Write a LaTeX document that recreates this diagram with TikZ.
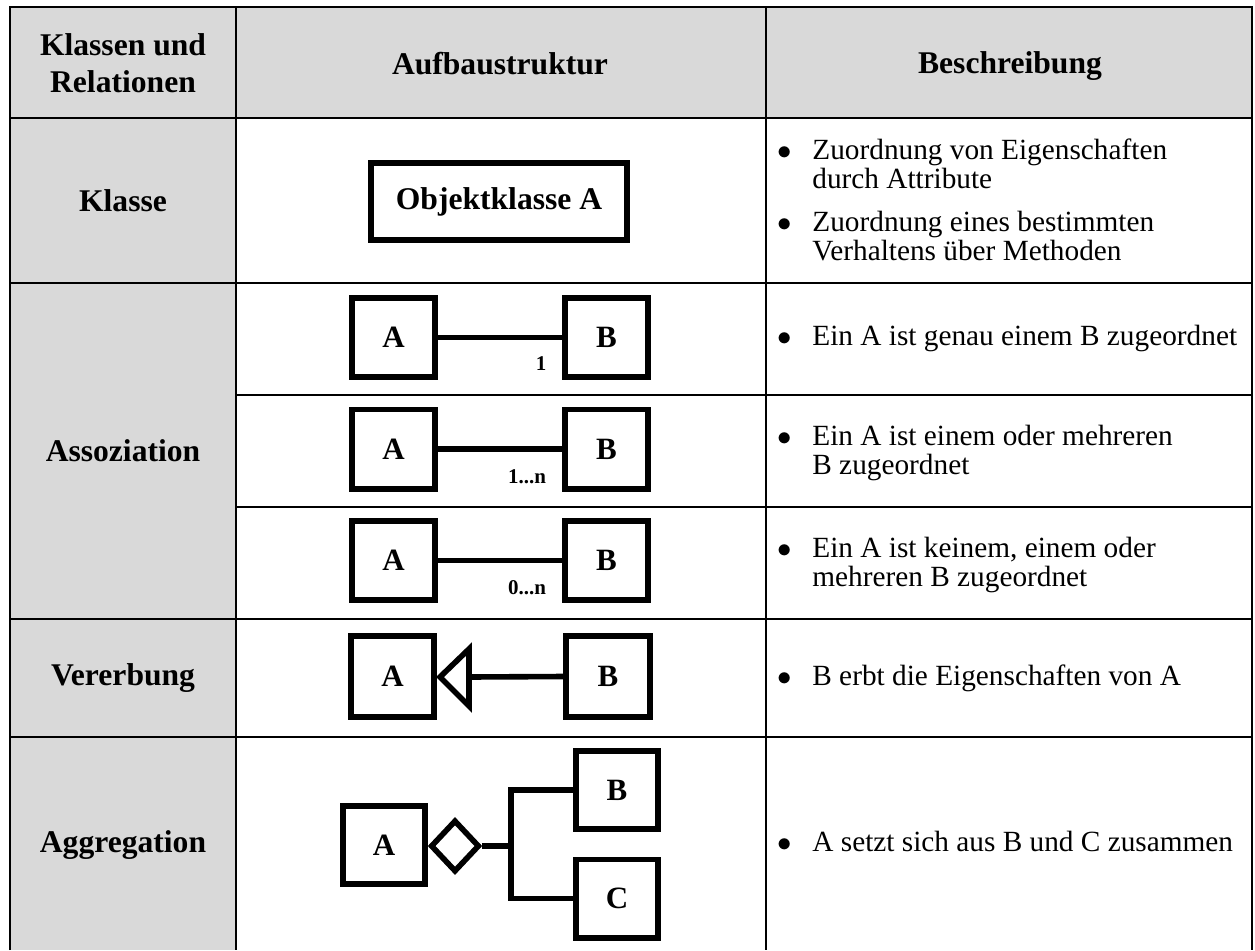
\documentclass[tikz,border=0pt]{standalone}
\usepackage{fontspec}
\setmainfont{Liberation Serif}
\usetikzlibrary{shapes.geometric}
\definecolor{cellgray}{HTML}{D9D9D9}
\tikzset{
  tbl/.style={line width=1pt, draw=black},
  conn/.style={line width=2.8pt, line join=miter},
  umlbox/.style={draw, line width=2.8pt, inner sep=0pt, font=\bfseries\fontsize{15.5}{18}\selectfont},
  assocbox/.style={umlbox, minimum width=41.7pt, minimum height=39.7pt},
  head/.style={font=\bfseries\fontsize{15.8}{18.5}\selectfont, align=center, inner sep=0pt},
  desc/.style={anchor=west, inner sep=0pt, font=\fontsize{14.65}{14.3}\selectfont},
  mult/.style={font=\bfseries\fontsize{10.5}{12}\selectfont, inner sep=0pt}
}
\newcommand{\bul}{\hspace*{0.5pt}$\bullet$}
\begin{document}
\begin{tikzpicture}[x=0.5pt, y=-0.5pt]
\useasboundingbox (0,0) rectangle (1255,950);
% gray fills
\fill[cellgray] (10,7) rectangle (1252,118);
\fill[cellgray] (10,118) rectangle (236,950);
% table lines
\draw[tbl] (10,950) -- (10,7) -- (1252,7) -- (1252,950);
\draw[tbl] (236,7) -- (236,950);
\draw[tbl] (766,7) -- (766,950);
\draw[tbl] (10,118) -- (1252,118);
\draw[tbl] (10,283) -- (1252,283);
\draw[tbl] (236,395) -- (1252,395);
\draw[tbl] (236,507) -- (1252,507);
\draw[tbl] (10,619) -- (1252,619);
\draw[tbl] (10,737) -- (1252,737);
% headers
\node[head] (h1) at (123,63) {Klassen und\\Relationen};
\node[head] (h2) at (500,64) {Aufbaustruktur};
\node[head] (h3) at (1010,66) {Beschreibung};
% left column labels
\node[head] (l1) at (123,201) {Klasse};
\node[head] (l2) at (123,451) {Assoziation};
\node[head] (l3) at (123,678) {Vererbung};
\node[head] (l4) at (123,845) {Aggregation};
% Klasse
\node[umlbox, minimum width=128.2pt, minimum height=38.7pt, font=\bfseries\fontsize{15.8}{18}\selectfont] (OK) at (499,201.5) {Objektklasse A};
% Association 1
\node[assocbox] (A1) at (393.5,337.5) {A};
\node[assocbox] (B1) at (606.5,337.5) {B};
\draw[conn] (A1.east) -- (B1.west);
\node[mult] (m1) at (541,364) {1};
% Association 2
\node[assocbox] (A2) at (393.5,449) {A};
\node[assocbox] (B2) at (606.5,449) {B};
\draw[conn] (A2.east) -- (B2.west);
\node[mult] (m2) at (527,477) {1...n};
% Association 3
\node[assocbox] (A3) at (393.5,560.5) {A};
\node[assocbox] (B3) at (606.5,560.5) {B};
\draw[conn] (A3.east) -- (B3.west);
\node[mult] (m3) at (527,588) {0...n};
% Vererbung
\node[umlbox, minimum width=41.7pt, minimum height=40.7pt] (VA) at (392.5,676.5) {A};
\node[umlbox, minimum width=42.2pt, minimum height=40.7pt] (VB) at (608,676.5) {B};
\coordinate (Ttip) at (440,677);
\coordinate (Tbase) at (469,677);
\draw[conn] (Ttip) -- (469,649) -- (469,706) -- cycle;
\draw[conn] (VB.west) -- (Tbase);
% Aggregation
\node[umlbox, minimum width=41.2pt, minimum height=39.2pt] (GA) at (384,845) {A};
\node[draw, diamond, line width=2.8pt, inner sep=0pt, minimum width=24.5pt, minimum height=26pt, line join=miter] (GD) at (455,846) {};
\node[umlbox, minimum width=41.2pt, minimum height=39.2pt] (GB) at (617,790) {B};
\node[umlbox, minimum width=41.2pt, minimum height=39.2pt] (GC) at (617,898.5) {C};
\coordinate (J) at (511,846);
\draw[conn] (GD.east) -- (J);
\draw[conn] (GB.west) -| (J) |- (GC.west);
% descriptions
\node[desc] (d1) at (776,204) {\begin{tabular}{@{}p{18pt}@{}l@{}}
\bul & Zuordnung von Eigenschaften\\
     & durch Attribute\\[7pt]
\bul & Zuordnung eines bestimmten\\
     & Verhaltens über Methoden
\end{tabular}};
\node[desc] (d2) at (776,340) {\begin{tabular}{@{}p{18pt}@{}l@{}}
\bul & Ein A ist genau einem B zugeordnet
\end{tabular}};
\node[desc] (d3) at (776,454) {\begin{tabular}{@{}p{18pt}@{}l@{}}
\bul & Ein A ist einem oder mehreren\\
     & B zugeordnet
\end{tabular}};
\node[desc] (d4) at (776,566) {\begin{tabular}{@{}p{18pt}@{}l@{}}
\bul & Ein A ist keinem, einem oder\\
     & mehreren B zugeordnet
\end{tabular}};
\node[desc] (d5) at (776,679) {\begin{tabular}{@{}p{18pt}@{}l@{}}
\bul & B erbt die Eigenschaften von A
\end{tabular}};
\node[desc] (d6) at (776,846) {\begin{tabular}{@{}p{18pt}@{}l@{}}
\bul & A setzt sich aus B und C zusammen
\end{tabular}};
\end{tikzpicture}
\end{document}
